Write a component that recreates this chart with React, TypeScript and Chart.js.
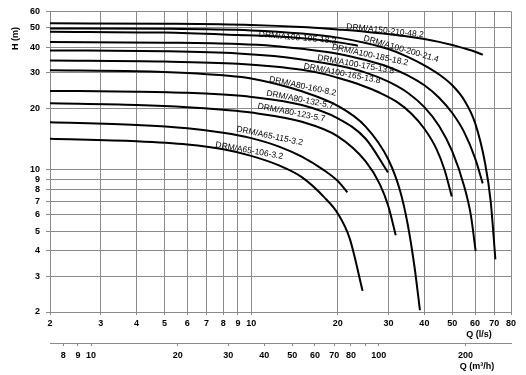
import React, { useEffect, useRef } from "react";
import { Chart, registerables } from "chart.js";

Chart.register(...registerables);

// ---- axis ticks ----
const qTicksLs = [2, 3, 4, 5, 6, 7, 8, 9, 10, 20, 30, 40, 50, 60, 70, 80];
const hTicks = [2, 3, 4, 5, 6, 7, 8, 9, 10, 20, 30, 40, 50, 60];
const qTicksM3h = [8, 9, 10, 20, 30, 40, 50, 60, 70, 80, 90, 100, 200];
const qLabelsM3h = [8, 9, 10, 20, 30, 40, 50, 60, 70, 80, 100, 200];

// ---- pump curves (Q in l/s, H in m) ----
const curveNames = [
  "DRM/A150-210-48.2",
  "DRM/A100-200-21.4",
  "DRM/A100-195-18.2",
  "DRM/A100-185-18.2",
  "DRM/A100-175-13.8",
  "DRM/A100-165-13.8",
  "DRM/A80-160-8.2",
  "DRM/A80-132-5.7",
  "DRM/A80-123-5.7",
  "DRM/A65-115-3.2",
  "DRM/A65-106-3.2",
];

const q1 = [2, 5, 10, 15, 20, 25, 30, 35, 40, 45, 50, 55, 60, 63.8];
const h1 = [52.4, 52.2, 51.5, 50.3, 48.9, 47.7, 46.4, 45.2, 43.9, 42.5, 41.0, 39.5, 38.0, 36.7];

const q2 = [2, 5, 10, 15, 20, 25, 30, 35, 40, 45, 50, 55, 60, 65, 68, 70.6];
const h2 = [49.5, 49.3, 48.4, 46.7, 44.6, 42.0, 39.2, 35.9, 32.6, 29.4, 26.0, 22.0, 17.0, 10.8, 7.0, 3.63];

const q3 = [2, 5, 9, 12, 15, 18, 21, 23.5];
const h3 = [47.7, 47.2, 46.0, 45.3, 44.3, 43.2, 41.9, 40.7];

const q4 = [2, 5, 9, 12, 15, 20, 25, 30, 35, 40, 45, 50, 55, 60, 63.8];
const h4 = [42.4, 42.1, 41.5, 40.6, 39.3, 37.2, 34.6, 32.0, 29.1, 26.0, 22.6, 19.0, 15.3, 11.4, 8.57];

const q5 = [2, 5, 9, 12, 15, 20, 25, 30, 35, 40, 45, 50, 55, 58, 60.3];
const h5 = [38.6, 38.2, 37.3, 36.2, 34.8, 32.5, 30.0, 27.1, 23.9, 20.3, 16.4, 12.3, 8.3, 6.0, 3.98];

const q6 = [2, 5, 9, 12, 15, 18, 20.7, 24, 28, 32, 36, 40, 44, 47, 49.8];
const h6 = [34.4, 34.0, 33.2, 32.2, 31.0, 29.5, 27.9, 26.1, 23.9, 21.6, 18.9, 15.9, 12.7, 10.0, 7.39];

const q7 = [2, 4, 6, 8, 10, 15, 20, 25, 30, 33, 35, 37, 38.6];
const h7 = [30.8, 30.5, 29.9, 29.1, 28.1, 24.3, 20.6, 16.3, 11.2, 7.8, 5.4, 3.3, 2.04];

const q8 = [2, 4, 6, 8, 10, 15, 20, 25, 29.9];
const h8 = [24.4, 24.2, 23.9, 23.4, 22.8, 20.8, 17.9, 14.2, 9.7];

const q9 = [2, 4, 6, 8, 10, 15, 20, 25, 28, 30, 31.8];
const h9 = [21.2, 20.8, 20.3, 19.7, 19.1, 17.2, 14.6, 11.0, 8.5, 6.6, 4.77];

const q10 = [2, 4, 6, 8, 10, 12.5, 15, 18, 20, 21.6];
const h10 = [17.1, 16.6, 16.0, 15.2, 14.3, 13.0, 11.6, 9.9, 8.8, 7.75];

const q11 = [2, 4, 6, 8, 10, 12.5, 15, 18, 20, 22, 24.4];
const h11 = [14.2, 13.8, 13.3, 12.6, 11.7, 10.5, 9.2, 7.3, 6.1, 4.6, 2.54];

const curveQ = [q1, q2, q3, q4, q5, q6, q7, q8, q9, q10, q11];
const curveH = [h1, h2, h3, h4, h5, h6, h7, h8, h9, h10, h11];

// ---- curve label anchors (Q, H) and rotation in degrees ----
const labelQ = [29.2, 33.2, 14.5, 25.9, 23.1, 20.7, 15.1, 14.8, 13.8, 11.6, 9.85];
const labelH = [48.2, 39.2, 44.5, 36.6, 32.9, 29.7, 25.7, 22.1, 19.1, 14.65, 12.4];
const labelAngle = [6, 16, 5, 12, 10, 11, 12, 11, 11, 12, 10];
const labelUnderCurve = [false, false, true, false, false, false, false, false, false, false, false];

const GRID = "#8a8a8a";
const FONT_FAMILY = '"Liberation Sans", Arial, sans-serif';

function setTicks(values: number[]) {
  return (scale: any) => {
    scale.ticks = values.map((v) => ({ value: v }));
  };
}

function drawLabel(ctx: CanvasRenderingContext2D, chart: any, i: number, withBg: boolean) {
  const xs = chart.scales.x;
  const ys = chart.scales.y;
  const px = xs.getPixelForValue(labelQ[i]);
  const py = ys.getPixelForValue(labelH[i]);
  ctx.save();
  ctx.translate(px, py);
  ctx.rotate((labelAngle[i] * Math.PI) / 180);
  ctx.font = `8.5px ${FONT_FAMILY}`;
  ctx.textAlign = "center";
  ctx.textBaseline = "middle";
  if (withBg) {
    const w = ctx.measureText(curveNames[i]).width;
    ctx.fillStyle = "#ffffff";
    ctx.fillRect(-w / 2 - 1, -4, w + 2, 8);
  }
  ctx.fillStyle = "#000";
  ctx.fillText(curveNames[i], 0, 0);
  ctx.restore();
}

const labelPlugin = {
  id: "curveLabels",
  beforeDatasetsDraw(chart: any) {
    const ctx = chart.ctx;
    curveNames.forEach((_, i) => {
      if (labelUnderCurve[i]) drawLabel(ctx, chart, i, true);
    });
  },
  afterDatasetsDraw(chart: any) {
    const ctx = chart.ctx;
    curveNames.forEach((_, i) => {
      if (!labelUnderCurve[i]) drawLabel(ctx, chart, i, false);
    });
  },
  afterDraw(chart: any) {
    const ctx = chart.ctx;
    const xs = chart.scales.x;
    const x2 = chart.scales.x2;
    const ys = chart.scales.y;
    ctx.save();
    ctx.fillStyle = "#000";
    ctx.font = `bold 9px ${FONT_FAMILY}`;
    ctx.textAlign = "center";
    ctx.textBaseline = "middle";
    ctx.fillText("Q (l/s)", xs.right - 32, xs.top + 23);
    ctx.fillText("Q (m\u00B3/h)", x2.right - 34, x2.top + 24);
    ctx.translate(16, ys.top + 27);
    ctx.rotate(-Math.PI / 2);
    ctx.fillText("H (m)", 0, 0);
    ctx.restore();
  },
};

export default function App() {
  const canvasRef = useRef<HTMLCanvasElement | null>(null);

  useEffect(() => {
    if (!canvasRef.current) return;
    const datasets = curveNames.map((name, i) => ({
      label: name,
      data: curveQ[i].map((q, j) => ({ x: q, y: curveH[i][j] })),
      borderColor: "#000",
      borderWidth: 2,
      pointRadius: 0,
      fill: false,
      cubicInterpolationMode: "monotone" as const,
      xAxisID: "x",
      yAxisID: "y",
    }));

    const tickFont = { family: FONT_FAMILY, size: 9, weight: "bold" as const };

    const chart = new Chart(canvasRef.current, {
      type: "line",
      data: { datasets },
      plugins: [labelPlugin],
      options: {
        animation: false,
        responsive: false,
        events: [],
        layout: { padding: { top: 9, right: 15, left: 0, bottom: 0 } },
        plugins: { legend: { display: false }, tooltip: { enabled: false }, title: { display: false } },
        scales: {
          x: {
            type: "logarithmic",
            position: "bottom",
            weight: 0,
            min: 2,
            max: 80,
            afterBuildTicks: setTicks(qTicksLs),
            afterFit: (s: any) => {
              s.height = 31;
            },
            grid: { color: GRID, lineWidth: 1, tickLength: 3, drawTicks: true },
            border: { display: true, color: GRID },
            ticks: {
              autoSkip: false,
              maxRotation: 0,
              padding: 3,
              color: "#000",
              font: tickFont,
              callback: (v: any) => String(v),
            },
          },
          x2: {
            type: "logarithmic",
            position: "bottom",
            weight: 1,
            min: 7.2,
            max: 288,
            afterBuildTicks: setTicks(qTicksM3h),
            afterFit: (s: any) => {
              s.height = 32;
            },
            grid: { color: GRID, lineWidth: 1, tickLength: 3, drawOnChartArea: false, drawTicks: true },
            border: { display: true, color: GRID },
            ticks: {
              autoSkip: false,
              maxRotation: 0,
              padding: 4,
              color: "#000",
              font: tickFont,
              callback: (v: any) => (qLabelsM3h.includes(Number(v)) ? String(v) : ""),
            },
          },
          y: {
            type: "logarithmic",
            position: "left",
            min: 2,
            max: 60,
            afterBuildTicks: setTicks(hTicks),
            afterFit: (s: any) => {
              s.width = 50;
            },
            grid: { color: GRID, lineWidth: 1, tickLength: 4, drawTicks: true },
            border: { display: true, color: GRID },
            ticks: {
              autoSkip: false,
              padding: 6,
              color: "#000",
              font: tickFont,
              callback: (v: any) => String(v),
            },
          },
        },
      },
    } as any);

    return () => {
      chart.destroy();
    };
  }, []);

  return (
    <div style={{ position: "absolute", left: 0, top: 0, width: 526, height: 375, background: "#fff" }}>
      <canvas ref={canvasRef} width={526} height={375} style={{ display: "block" }} />
    </div>
  );
}
